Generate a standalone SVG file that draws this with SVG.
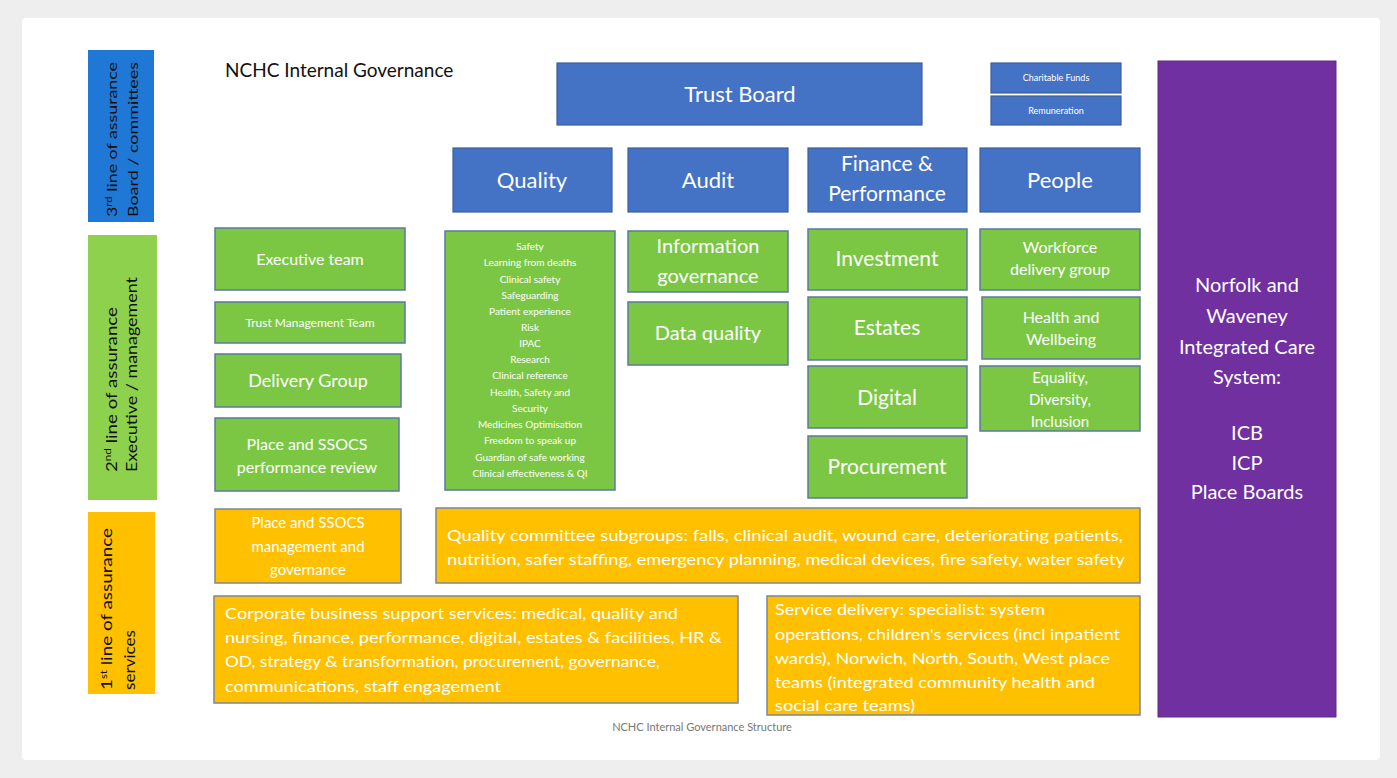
<svg xmlns="http://www.w3.org/2000/svg" width="1397" height="778" viewBox="0 0 1397 778">
  <style>
    .blue { fill: #4472c4; stroke: #3b5f9c; stroke-width: 1.2; }
    .green { fill: #7bc744; stroke: #5b7b9c; stroke-width: 1.5; }
    .orange { fill: #ffc000; stroke: #7d8797; stroke-width: 1.5; }
    .purple { fill: #7030a0; stroke: #5c2a86; stroke-width: 1; }
    .t { font-family: Lato, "Open Sans", "Liberation Sans", sans-serif; fill: #ffffff; text-anchor: middle; }
    .l { font-family: Lato, "Open Sans", "Liberation Sans", sans-serif; fill: #ffffff; font-size: 16px; }
    .side { font-family: Lato, "Liberation Sans", sans-serif; fill: #111111; }
  </style>

  <!-- page -->
  <rect x="0" y="0" width="1397" height="778" fill="#eeeeee"/>
  <rect x="22" y="18" width="1358" height="742" rx="4" fill="#ffffff"/>

  <!-- assurance line labels -->
  <g id="line3">
    <rect x="88" y="50" width="66" height="172" fill="#1f78d6"/>
    <text class="side" font-size="14" transform="translate(117,217) rotate(-90)" textLength="155" lengthAdjust="spacingAndGlyphs">3<tspan font-size="9" baseline-shift="super">rd</tspan> line of assurance</text>
    <text class="side" font-size="14" transform="translate(138,217) rotate(-90)" textLength="155" lengthAdjust="spacingAndGlyphs">Board / committees</text>
  </g>
  <g id="line2">
    <rect x="88" y="235" width="69" height="265" fill="#8dd14d"/>
    <text class="side" font-size="16" transform="translate(117,472) rotate(-90)" textLength="165" lengthAdjust="spacingAndGlyphs">2<tspan font-size="10" baseline-shift="super">nd</tspan> line of assurance</text>
    <text class="side" font-size="16" transform="translate(137,472) rotate(-90)" textLength="195" lengthAdjust="spacingAndGlyphs">Executive / management</text>
  </g>
  <g id="line1">
    <rect x="88" y="512" width="67" height="182" fill="#ffc000"/>
    <text class="side" font-size="15" transform="translate(112,690) rotate(-90)" textLength="162" lengthAdjust="spacingAndGlyphs">1<tspan font-size="9" baseline-shift="super">st</tspan> line of assurance</text>
    <text class="side" font-size="15" transform="translate(135,690) rotate(-90)" textLength="60" lengthAdjust="spacingAndGlyphs">services</text>
  </g>

  <text x="225" y="77" font-family="Lato, 'Open Sans', sans-serif" font-size="19" fill="#111">NCHC Internal Governance</text>

  <!-- board -->
  <g id="trust-board">
    <rect class="blue" x="557" y="63" width="365" height="62"/>
    <text class="t" x="740" y="102" font-size="22">Trust Board</text>
  </g>
  <g id="charitable-funds">
    <rect class="blue" x="991" y="63" width="130" height="30"/>
    <text class="t" x="1056" y="81" font-size="9">Charitable Funds</text>
  </g>
  <g id="remuneration">
    <rect class="blue" x="991" y="96" width="130" height="29"/>
    <text class="t" x="1056" y="114" font-size="9">Remuneration</text>
  </g>

  <!-- committees -->
  <g id="quality">
    <rect class="blue" x="453" y="148" width="159" height="64"/>
    <text class="t" x="532" y="188" font-size="22">Quality</text>
  </g>
  <g id="audit">
    <rect class="blue" x="628" y="148" width="160" height="64"/>
    <text class="t" x="708" y="188" font-size="22">Audit</text>
  </g>
  <g id="finance-performance">
    <rect class="blue" x="808" y="148" width="159" height="64"/>
    <text class="t" x="887" y="171" font-size="21">Finance &amp;</text>
    <text class="t" x="887" y="201" font-size="21">Performance</text>
  </g>
  <g id="people">
    <rect class="blue" x="980" y="148" width="160" height="64"/>
    <text class="t" x="1060" y="188" font-size="22">People</text>
  </g>

  <!-- executive column -->
  <g id="executive-team">
    <rect class="green" x="215" y="228" width="190" height="62"/>
    <text class="t" x="310" y="265" font-size="16">Executive team</text>
  </g>
  <g id="trust-management-team">
    <rect class="green" x="215" y="302" width="190" height="41"/>
    <text class="t" x="310" y="327" font-size="12">Trust Management Team</text>
  </g>
  <g id="delivery-group">
    <rect class="green" x="215" y="354" width="186" height="53"/>
    <text class="t" x="308" y="387" font-size="18">Delivery Group</text>
  </g>
  <g id="place-performance-review">
    <rect class="green" x="215" y="418" width="184" height="73"/>
    <text class="t" x="307" y="450" font-size="16">Place and SSOCS</text>
    <text class="t" x="307" y="473" font-size="16">performance review</text>
  </g>

  <!-- quality sub-areas -->
  <g id="quality-areas">
    <rect class="green" x="445" y="231" width="170" height="259"/>
    <g class="t" font-size="10">
      <text x="530" y="250">Safety</text>
      <text x="530" y="266">Learning from deaths</text>
      <text x="530" y="283">Clinical safety</text>
      <text x="530" y="299">Safeguarding</text>
      <text x="530" y="315">Patient experience</text>
      <text x="530" y="331">Risk</text>
      <text x="530" y="347">IPAC</text>
      <text x="530" y="363">Research</text>
      <text x="530" y="379">Clinical reference</text>
      <text x="530" y="396">Health, Safety and</text>
      <text x="530" y="412">Security</text>
      <text x="530" y="428">Medicines Optimisation</text>
      <text x="530" y="444">Freedom to speak up</text>
      <text x="530" y="461">Guardian of safe working</text>
      <text x="530" y="477">Clinical effectiveness &amp; QI</text>
    </g>
  </g>

  <!-- audit column -->
  <g id="information-governance">
    <rect class="green" x="628" y="231" width="160" height="61"/>
    <text class="t" x="708" y="253" font-size="20">Information</text>
    <text class="t" x="708" y="283" font-size="20">governance</text>
  </g>
  <g id="data-quality">
    <rect class="green" x="628" y="302" width="160" height="63"/>
    <text class="t" x="708" y="340" font-size="20">Data quality</text>
  </g>

  <!-- finance column -->
  <g id="investment">
    <rect class="green" x="808" y="229" width="159" height="61"/>
    <text class="t" x="887" y="266" font-size="21">Investment</text>
  </g>
  <g id="estates">
    <rect class="green" x="808" y="297" width="159" height="63"/>
    <text class="t" x="887" y="335" font-size="21">Estates</text>
  </g>
  <g id="digital">
    <rect class="green" x="808" y="366" width="159" height="62"/>
    <text class="t" x="887" y="405" font-size="21">Digital</text>
  </g>
  <g id="procurement">
    <rect class="green" x="808" y="436" width="159" height="62"/>
    <text class="t" x="887" y="474" font-size="21">Procurement</text>
  </g>

  <!-- people column -->
  <g id="workforce-delivery-group">
    <rect class="green" x="980" y="229" width="160" height="61"/>
    <text class="t" x="1060" y="253" font-size="16">Workforce</text>
    <text class="t" x="1060" y="275" font-size="16">delivery group</text>
  </g>
  <g id="health-wellbeing">
    <rect class="green" x="982" y="297" width="158" height="62"/>
    <text class="t" x="1061" y="323" font-size="16">Health and</text>
    <text class="t" x="1061" y="345" font-size="16">Wellbeing</text>
  </g>
  <g id="equality-diversity-inclusion">
    <rect class="green" x="980" y="366" width="160" height="65"/>
    <text class="t" x="1060" y="383" font-size="15">Equality,</text>
    <text class="t" x="1060" y="405" font-size="15">Diversity,</text>
    <text class="t" x="1060" y="427" font-size="15">Inclusion</text>
  </g>

  <!-- integrated care system -->
  <g id="integrated-care-system">
    <rect class="purple" x="1158" y="61" width="178" height="656"/>
    <g class="t" font-size="20">
      <text x="1247" y="292">Norfolk and</text>
      <text x="1247" y="323">Waveney</text>
      <text x="1247" y="354">Integrated Care</text>
      <text x="1247" y="384">System:</text>
      <text x="1247" y="440">ICB</text>
      <text x="1247" y="470">ICP</text>
      <text x="1247" y="499">Place Boards</text>
    </g>
  </g>

  <!-- services -->
  <g id="place-management-governance">
    <rect class="orange" x="215" y="509" width="186" height="74"/>
    <text class="t" x="308" y="528" font-size="15">Place and SSOCS</text>
    <text class="t" x="308" y="552" font-size="15">management and</text>
    <text class="t" x="308" y="575" font-size="15">governance</text>
  </g>
  <g id="quality-subgroups">
    <rect class="orange" x="436" y="508" width="704" height="75"/>
    <text class="l" x="447" y="541" textLength="676" lengthAdjust="spacingAndGlyphs">Quality committee subgroups: falls, clinical audit, wound care, deteriorating patients,</text>
    <text class="l" x="447" y="565" textLength="678" lengthAdjust="spacingAndGlyphs">nutrition, safer staffing, emergency planning, medical devices, fire safety, water safety</text>
  </g>
  <g id="corporate-services">
    <rect class="orange" x="214" y="596" width="524" height="107"/>
    <text class="l" x="225" y="619" textLength="453" lengthAdjust="spacingAndGlyphs">Corporate business support services: medical, quality and</text>
    <text class="l" x="225" y="643" textLength="497" lengthAdjust="spacingAndGlyphs">nursing, finance, performance, digital, estates &amp; facilities, HR &amp;</text>
    <text class="l" x="225" y="667" textLength="435" lengthAdjust="spacingAndGlyphs">OD, strategy &amp; transformation, procurement, governance,</text>
    <text class="l" x="225" y="692" textLength="276" lengthAdjust="spacingAndGlyphs">communications, staff engagement</text>
  </g>
  <g id="service-delivery">
    <rect class="orange" x="767" y="596" width="373" height="119"/>
    <text class="l" x="775" y="615" textLength="270" lengthAdjust="spacingAndGlyphs">Service delivery: specialist: system</text>
    <text class="l" x="775" y="640" textLength="345" lengthAdjust="spacingAndGlyphs">operations, children's services (incl inpatient</text>
    <text class="l" x="775" y="664" textLength="335" lengthAdjust="spacingAndGlyphs">wards), Norwich, North, South, West place</text>
    <text class="l" x="775" y="688" textLength="320" lengthAdjust="spacingAndGlyphs">teams (integrated community health and</text>
    <text class="l" x="775" y="711" textLength="140" lengthAdjust="spacingAndGlyphs">social care teams)</text>
  </g>

  <text x="702" y="731" font-family="Lato, 'Open Sans', sans-serif" font-size="11" fill="#777" text-anchor="middle">NCHC Internal Governance Structure</text>
</svg>
